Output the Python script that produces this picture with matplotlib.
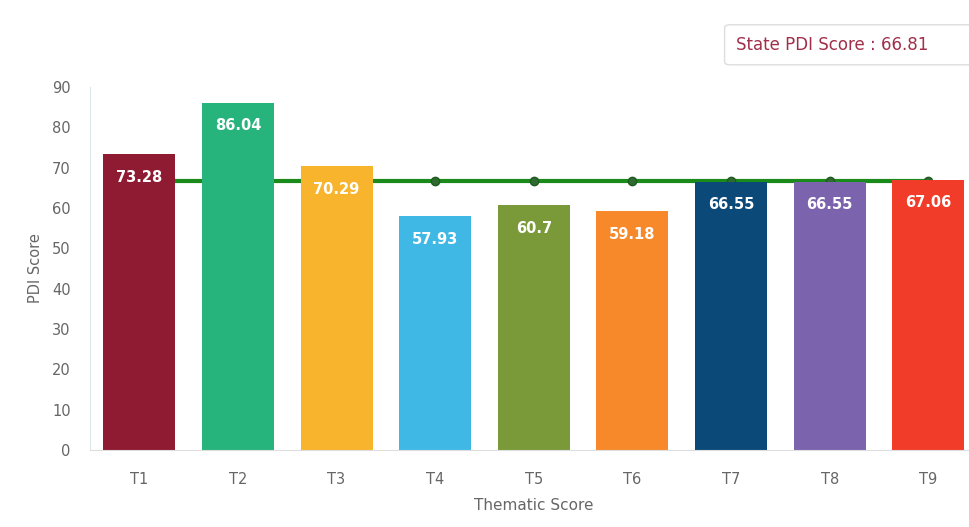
import numpy as np
import matplotlib.pyplot as plt
from matplotlib.patches import FancyBboxPatch

themes = ["T1", "T2", "T3", "T4", "T5", "T6", "T7", "T8", "T9"]
scores = [73.28, 86.04, 70.29, 57.93, 60.7, 59.18, 66.55, 66.55, 67.06]
state_score = 66.81
colors = ["#8f1b33", "#26b47c", "#f9b42d", "#3fb8e6", "#7a9a3a",
          "#f7892a", "#0b4a78", "#7b64ad", "#f23c2a"]

fig = plt.figure(figsize=(9.7, 5.27), dpi=100)
ax = fig.add_axes([0.0928, 0.146, 0.915, 0.689])

x = np.arange(len(themes))
ax.plot(x, [state_score] * len(x), color="#1a8a1a", lw=3, marker="o",
        markersize=6, markerfacecolor="#2e6b2e", markeredgecolor="#1f5a1f", zorder=1)
bars = ax.bar(x, scores, width=0.73, color=colors, zorder=2)

for xi, v in zip(x, scores):
    ax.annotate(str(v), (xi, v), xytext=(0, -23), textcoords="offset pixels",
                ha="center", va="center", color="white", fontsize=10.5,
                fontweight="bold", zorder=3)

ax.set_xlim(-0.5, 8.5)
ax.set_ylim(0, 90)
ax.set_yticks(range(0, 91, 10))
ax.set_xticks(x)
ax.set_xticklabels(themes)
ax.tick_params(axis="both", length=0, colors="#666666", labelsize=10.5)
ax.tick_params(axis="x", pad=16)
ax.tick_params(axis="y", pad=14)
for s in ["top", "right"]:
    ax.spines[s].set_visible(False)
ax.spines["left"].set_color("#dde6ea")
ax.spines["bottom"].set_color("#dddddd")
ax.set_ylabel("PDI Score", color="#666666", fontsize=10.5, labelpad=6)
ax.set_xlabel("Thematic Score", color="#666666", fontsize=11, labelpad=8)

# state score box, runs off the right edge like the original
box = FancyBboxPatch((0.747, 0.877), 0.3, 0.076, transform=fig.transFigure,
                     boxstyle="round,pad=0,rounding_size=0.006",
                     facecolor="white", edgecolor="#dddddd", lw=1)
fig.patches.append(box)
fig.text(0.759, 0.915, "State PDI Score : 66.81", color="#a0304a",
         fontsize=12, ha="left", va="center")

fig.savefig("out.png", dpi=100)
